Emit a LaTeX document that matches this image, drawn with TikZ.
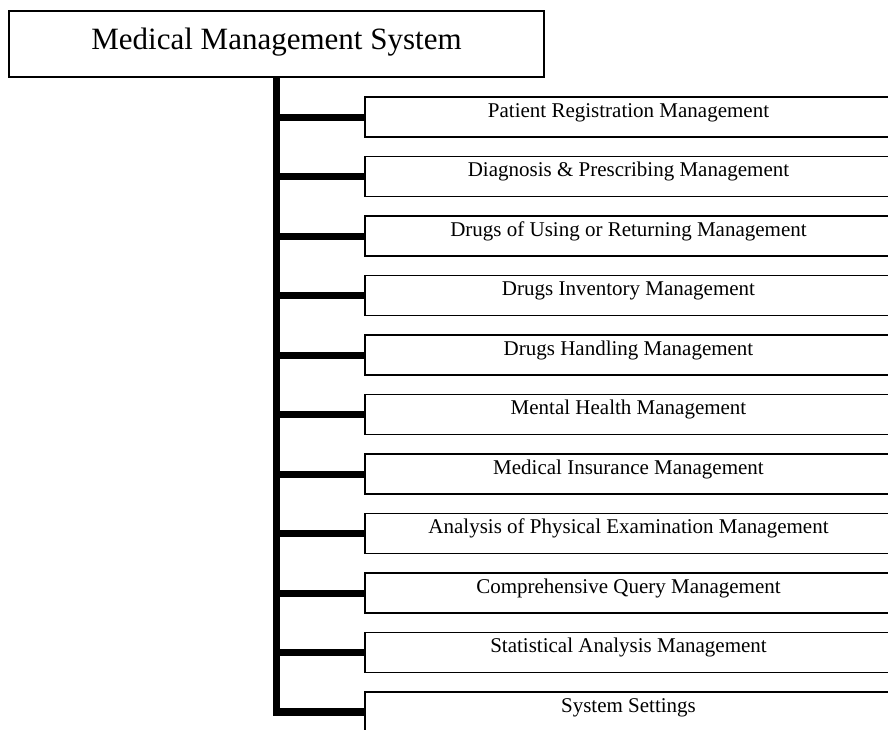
\documentclass[tikz,border=0pt]{standalone}
\usepackage{fontspec}
\setmainfont{Liberation Serif}
\begin{document}
\begin{tikzpicture}[x=1pt,y=-1pt,
  topbox/.style={draw, line width=2pt, minimum width=535pt, minimum height=66pt, inner sep=0pt,
    font=\fontsize{31}{31}\selectfont, text height=14pt, text depth=4pt},
  modbox/.style={draw, line width=1.5pt, minimum width=527pt, minimum height=40pt, inner sep=0pt,
    font=\fontsize{21}{21}\selectfont, text height=5pt, text depth=5pt},
  trunk/.style={line width=7.5pt, miter limit=10},
  branch/.style={line width=7pt}]
\clip (0,0) rectangle (888,729);
\node[topbox] (top) at (276.5,44) {Medical Management System};
\foreach \i/\t in {1/Patient Registration Management,
  2/Diagnosis \& Prescribing Management,
  3/Drugs of Using or Returning Management,
  4/Drugs Inventory Management,
  5/Drugs Handling Management,
  6/Mental Health Management,
  7/Medical Insurance Management,
  8/Analysis of Physical Examination Management,
  9/Comprehensive Query Management,
  10/Statistical Analysis Management,
  11/System Settings}{
  \node[modbox] (b\i) at (628.5,{117+59.5*(\i-1)}) {\t};
}
\coordinate (corner) at (top.south |- b11.west);
\draw[trunk] (top.south) -- (corner) -- (b11.west);
\foreach \i in {1,...,10}{
  \draw[branch] (top.south |- b\i.west) -- (b\i.west);
}
\end{tikzpicture}
\end{document}
